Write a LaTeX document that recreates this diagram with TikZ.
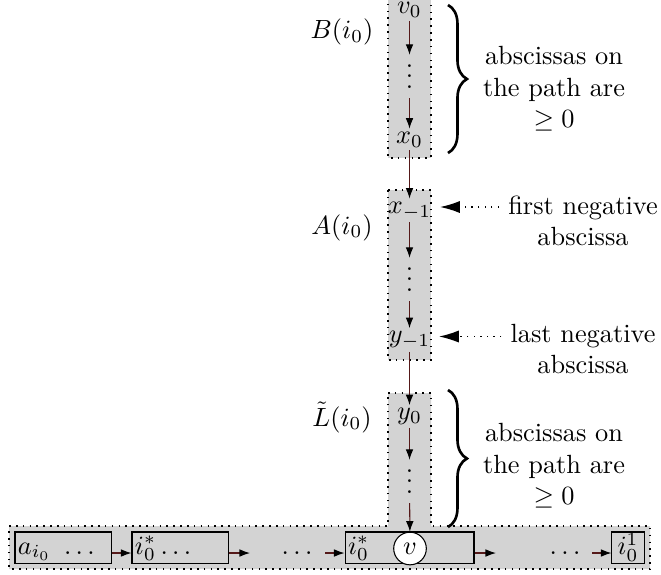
\documentclass[tikz,border=0pt]{standalone}
\usetikzlibrary{arrows.meta,calc,decorations.pathreplacing}
\definecolor{arrowcol}{RGB}{85,25,25}
\definecolor{stripgray}{RGB}{211,211,211}
\newcommand\colvdots{\vbox{\baselineskip4pt\lineskiplimit0pt\hbox{.}\hbox{.}\hbox{.}}}
\begin{document}
\begin{tikzpicture}[x=0.38pt,y=-0.38pt,
  strip/.style={fill=stripgray, draw=black, dotted, line width=0.6pt},
  conn/.style={draw=arrowcol, -{Latex[length=4pt,width=2.9pt,color=black]}},
  cnode/.style={inner sep=1pt},
  dotsnode/.style={inner xsep=1pt, inner ysep=3.5pt},
  rowbox/.style={draw=black, fill=stripgray, inner sep=0pt, minimum height=11.8pt},
  bigarrow/.style={dotted, line width=0.5pt, -{Latex[length=7.5pt,width=4.6pt,color=black]}},
  bracestyle/.style={line width=1pt, decorate, decoration={brace, amplitude=7.2pt}},
  lbl/.style={anchor=base}]
\useasboundingbox (0,0) rectangle (661,574);

% gray strips
\draw[strip] (388,-10) rectangle (431,158);
\draw[strip] (388,190) rectangle (431,360);
\draw[strip] (388,393) -- (431,393) -- (431,526) -- (650,526) -- (650,569)
  -- (9,569) -- (9,526) -- (388,526) -- cycle;

% bottom row boxes
\node[rowbox, minimum width=36.5pt] (b1) at (63,547.5) {};
\node[rowbox, minimum width=36.5pt] (b2) at (180,547.5) {};
\node[rowbox, minimum width=49pt] (b3) at (409.5,547.5) {};
\node[rowbox, minimum width=12.2pt] (b4) at (628,547.5) {};
\node[anchor=base west, inner sep=0pt] (t1) at ($(b1.west)+(3,6.5)$) {$a_{i_0}\ \ldots$};
\node[anchor=base west, inner sep=0pt] (t2) at ($(b2.west)+(3,6.5)$) {$i_0^*\ldots$};
\node[anchor=base west, inner sep=0pt] (t3) at ($(b3.west)+(3,6.5)$) {$i_0^*$};
\node[inner sep=0pt] (t4) at (b4.center) {$i_0^1$};
\node[circle, draw=black, fill=white, minimum size=12.4pt, inner sep=0pt] (v) at (410,548.5) {$v$};
\node[lbl, inner sep=0pt] (d1) at (297,554) {$\ldots$};
\node[lbl, inner sep=0pt] (d2) at (565,554) {$\ldots$};

% bottom row arrows
\coordinate (ar) at (0,553);
\coordinate (e2) at (250,553);
\coordinate (s3) at (325,553);
\coordinate (e3) at (496,553);
\coordinate (s4) at (592,553);
\draw[conn] (b1.east |- ar) -- (b2.west |- ar);
\draw[conn] (b2.east |- ar) -- (e2);
\draw[conn] (s3) -- (b3.west |- ar);
\draw[conn] (b3.east |- ar) -- (e3);
\draw[conn] (s4) -- (b4.west |- ar);

% column nodes
\node[cnode] (v0) at (409.5,10) {$v_0$};
\node[dotsnode] (vd1) at (409.5,76.5) {\colvdots};
\node[cnode] (x0) at (409.5,139.5) {$x_0$};
\node[cnode] (xm1) at (409.5,210.5) {$x_{-1}$};
\node[dotsnode] (vd2) at (409.5,279.5) {\colvdots};
\node[cnode] (ym1) at (409.5,340) {$y_{-1}$};
\node[cnode] (y0) at (409.5,416.5) {$y_0$};
\node[dotsnode] (vd3) at (409.5,481.5) {\colvdots};

\draw[conn] (v0) -- (vd1);
\draw[conn] (vd1) -- (x0);
\draw[conn] (x0) -- (xm1);
\draw[conn] (xm1) -- (vd2);
\draw[conn] (vd2) -- (ym1);
\draw[conn] (ym1) -- (y0);
\draw[conn] (y0) -- (vd3);
\draw[conn] (vd3) -- (v);

% left labels
\node[lbl] (lB) at (342,38.6) {$B(i_0)$};
\node[lbl] (lA) at (342,234) {$A(i_0)$};
\node[lbl] (lL) at (342,426) {$\tilde{L}(i_0)$};

% braces and their texts
\draw[bracestyle] (448,5) -- (448,153);
\draw[bracestyle] (448,390) -- (448,527);
\node[align=center] (br1) at (554,89) {abscissas on\\the path are\\$\geq 0$};
\node[align=center] (br2) at (554,466) {abscissas on\\the path are\\$\geq 0$};

% negative abscissa annotations
\node[align=center] (fn) at (583,221) {first negative\\abscissa};
\node[align=center] (ln) at (583,349) {last negative\\abscissa};
\draw[bigarrow, shorten >=2.2pt] ($(xm1.east -| fn.west)+(0,-3.5)$) -- ($(xm1.east)+(0,-3.5)$);
\draw[bigarrow, shorten >=2.2pt] ($(ym1.east -| ln.west)+(0,-3.5)$) -- ($(ym1.east)+(0,-3.5)$);
\end{tikzpicture}
\end{document}
